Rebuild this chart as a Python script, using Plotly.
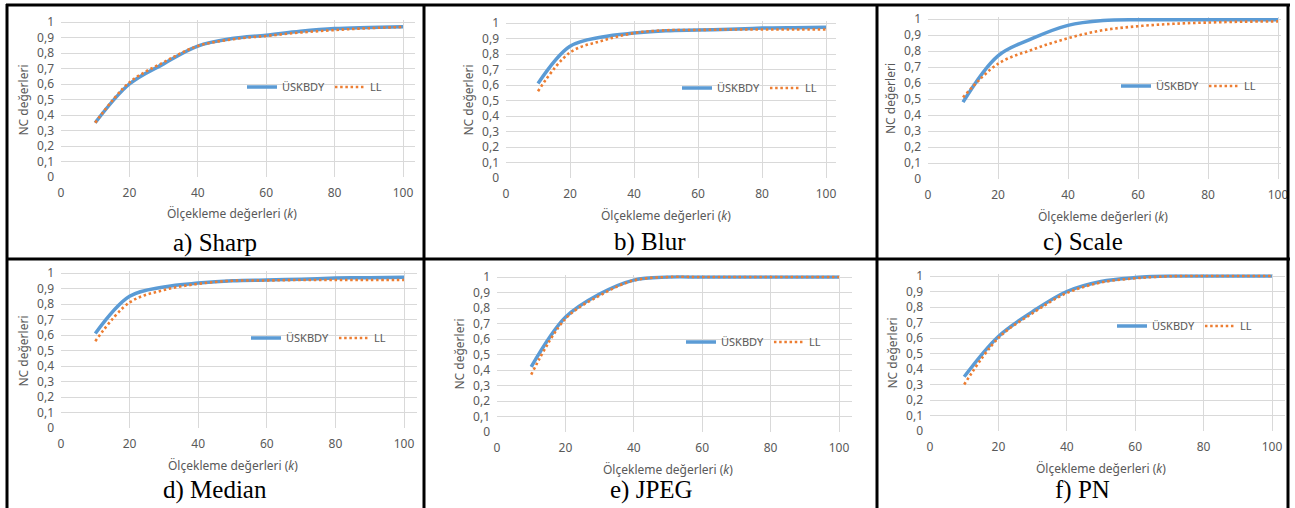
import plotly.graph_objects as go

W, H = 1295, 508

# ---------------- data ----------------
k_values = [10, 20, 30, 40, 50, 60, 70, 80, 90, 100]
series_names = ["ÜSKBDY", "LL"]
panel_titles = ["a) Sharp", "b) Blur", "c) Scale", "d) Median", "e) JPEG", "f) PN"]

sharp_uskbdy = [0.35, 0.60, 0.73, 0.845, 0.893, 0.915, 0.94, 0.958, 0.965, 0.97]
sharp_ll     = [0.35, 0.61, 0.74, 0.845, 0.888, 0.91, 0.932, 0.948, 0.96, 0.968]

blur_uskbdy = [0.61, 0.85, 0.91, 0.935, 0.95, 0.955, 0.96, 0.967, 0.97, 0.972]
blur_ll     = [0.56, 0.81, 0.885, 0.935, 0.953, 0.955, 0.958, 0.958, 0.958, 0.958]

scale_uskbdy = [0.48, 0.77, 0.88, 0.96, 0.99, 0.995, 0.995, 0.995, 0.995, 0.995]
scale_ll     = [0.51, 0.72, 0.81, 0.88, 0.93, 0.955, 0.97, 0.978, 0.983, 0.985]

median_uskbdy = [0.61, 0.85, 0.91, 0.935, 0.95, 0.955, 0.96, 0.967, 0.97, 0.972]
median_ll     = [0.56, 0.81, 0.89, 0.93, 0.95, 0.952, 0.955, 0.955, 0.955, 0.955]

jpeg_uskbdy = [0.42, 0.74, 0.89, 0.98, 1.0, 1.0, 1.0, 1.0, 1.0, 1.0]
jpeg_ll     = [0.37, 0.73, 0.88, 0.978, 1.0, 1.0, 1.0, 1.0, 1.0, 1.0]

pn_uskbdy = [0.35, 0.61, 0.77, 0.90, 0.965, 0.99, 1.0, 1.0, 1.0, 1.0]
pn_ll     = [0.30, 0.60, 0.76, 0.89, 0.958, 0.985, 0.998, 1.0, 1.0, 1.0]

x_ticks = [0, 20, 40, 60, 80, 100]
y_ticks = [0, 0.1, 0.2, 0.3, 0.4, 0.5, 0.6, 0.7, 0.8, 0.9, 1]
y_ticktext = [f"{v:g}".replace(".", ",") for v in y_ticks]

x_title = "Ölçekleme değerleri (<i>k</i>)"
y_title = "NC değerleri"

panel_data = [
    (sharp_uskbdy, sharp_ll),
    (blur_uskbdy, blur_ll),
    (scale_uskbdy, scale_ll),
    (median_uskbdy, median_ll),
    (jpeg_uskbdy, jpeg_ll),
    (pn_uskbdy, pn_ll),
]

# ---------------- layout (pixel geometry) ----------------
PANELS = [
    dict(x0=61, x100=403, xr=415, y1=22, y0=177, leg=(242, 87), cap=(215, 243)),
    dict(x0=506, x100=826, xr=836, y1=23, y0=178, leg=(677, 88), cap=(650, 242)),
    dict(x0=928, x100=1278, xr=1281, y1=19, y0=179, leg=(1116, 86), cap=(1083, 242)),
    dict(x0=61, x100=404, xr=417, y1=273, y0=428, leg=(246, 338), cap=(215, 490)),
    dict(x0=497, x100=839, xr=852, y1=277, y0=432, leg=(681, 342), cap=(652, 490)),
    dict(x0=930, x100=1272, xr=1285, y1=276, y0=431, leg=(1112, 326), cap=(1082, 490)),
]

BLUE = "#5B9BD5"
ORANGE = "#ED7D31"
GRAY_TXT = "#595959"
GRID = "#D9D9D9"
FONT = "Noto Sans"

fig = go.Figure()
layout_updates = {}
annotations = []

YTOP = 1.012

for i, (p, (s1, s2)) in enumerate(zip(PANELS, panel_data)):
    n = "" if i == 0 else str(i + 1)
    xa, ya = "x" + n, "y" + n
    legname = "legend" + n
    xmax = 100.0 * (p["xr"] - p["x0"]) / (p["x100"] - p["x0"])
    ytop_px = p["y1"] - (YTOP - 1.0) * (p["y0"] - p["y1"])
    layout_updates["xaxis" + n] = dict(
        domain=[p["x0"] / W, p["xr"] / W], range=[0, xmax], anchor=ya,
        tickvals=x_ticks, showgrid=True, gridcolor=GRID, gridwidth=1,
        zeroline=False, showline=False, ticks="", ticklabelstandoff=7,
        tickfont=dict(family=FONT, size=12, color=GRAY_TXT), fixedrange=True,
        automargin=False,
    )
    layout_updates["yaxis" + n] = dict(
        domain=[1 - p["y0"] / H, 1 - ytop_px / H], range=[0, YTOP], anchor=xa,
        tickvals=y_ticks, ticktext=y_ticktext, showgrid=True, gridcolor=GRID,
        gridwidth=1, zeroline=False, showline=False, ticks="", ticklabelstandoff=6,
        tickfont=dict(family=FONT, size=12, color=GRAY_TXT), fixedrange=True,
        automargin=False,
    )
    lx, ly = p["leg"]
    layout_updates[legname] = dict(
        orientation="h", x=lx / W, y=1 - ly / H, xanchor="left", yanchor="middle",
        bgcolor="rgba(0,0,0,0)", font=dict(family=FONT, size=11, color=GRAY_TXT),
        itemwidth=30, tracegroupgap=0,
    )
    fig.add_trace(go.Scatter(
        x=k_values, y=s1, name=series_names[0], mode="lines",
        line=dict(color=BLUE, width=3.5, shape="spline", smoothing=1.0),
        xaxis=xa, yaxis=ya, legend=legname,
    ))
    fig.add_trace(go.Scatter(
        x=k_values, y=s2, name=series_names[1], mode="lines",
        line=dict(color=ORANGE, width=2.6, dash="2.5px,2.7px", shape="spline", smoothing=1.0),
        xaxis=xa, yaxis=ya, legend=legname,
    ))
    annotations.append(dict(
        text=x_title, x=(p["x0"] + p["x100"]) / 2 / W, y=1 - (p["y0"] + 37) / H,
        xref="paper", yref="paper", showarrow=False, xanchor="center", yanchor="middle",
        font=dict(family=FONT, size=12, color=GRAY_TXT),
    ))
    annotations.append(dict(
        text=y_title, x=(p["x0"] - 38) / W, y=1 - (p["y0"] + p["y1"]) / 2 / H,
        xref="paper", yref="paper", showarrow=False, xanchor="center", yanchor="middle",
        textangle=-90, font=dict(family=FONT, size=12, color=GRAY_TXT),
    ))
    cx, cy = p["cap"]
    annotations.append(dict(
        text=panel_titles[i], x=cx / W, y=1 - cy / H, xref="paper", yref="paper",
        showarrow=False, xanchor="center", yanchor="middle",
        font=dict(family="Liberation Serif", size=25, color="black"),
    ))

shapes = []
def hline(y, x0, x1):
    shapes.append(dict(type="line", xref="paper", yref="paper", x0=x0 / W, x1=x1 / W,
                       y0=1 - y / H, y1=1 - y / H, line=dict(color="black", width=3)))
def vline(x, y0, y1):
    shapes.append(dict(type="line", xref="paper", yref="paper", x0=x / W, x1=x / W,
                       y0=1 - y0 / H, y1=1 - y1 / H, line=dict(color="black", width=3)))
hline(5, 6, 1290)
hline(259, 6, 1290)
for xv in (7, 424, 877, 1288):
    vline(xv, 4, 510)

fig.update_layout(
    width=W, height=H, margin=dict(l=0, r=0, t=0, b=0, autoexpand=False),
    paper_bgcolor="white", plot_bgcolor="white",
    annotations=annotations, shapes=shapes, **layout_updates,
)

fig.write_html(
    "out.html",
    config={"displayModeBar": False},
    post_script="document.body.style.margin='0';document.body.style.overflow='hidden';",
)
